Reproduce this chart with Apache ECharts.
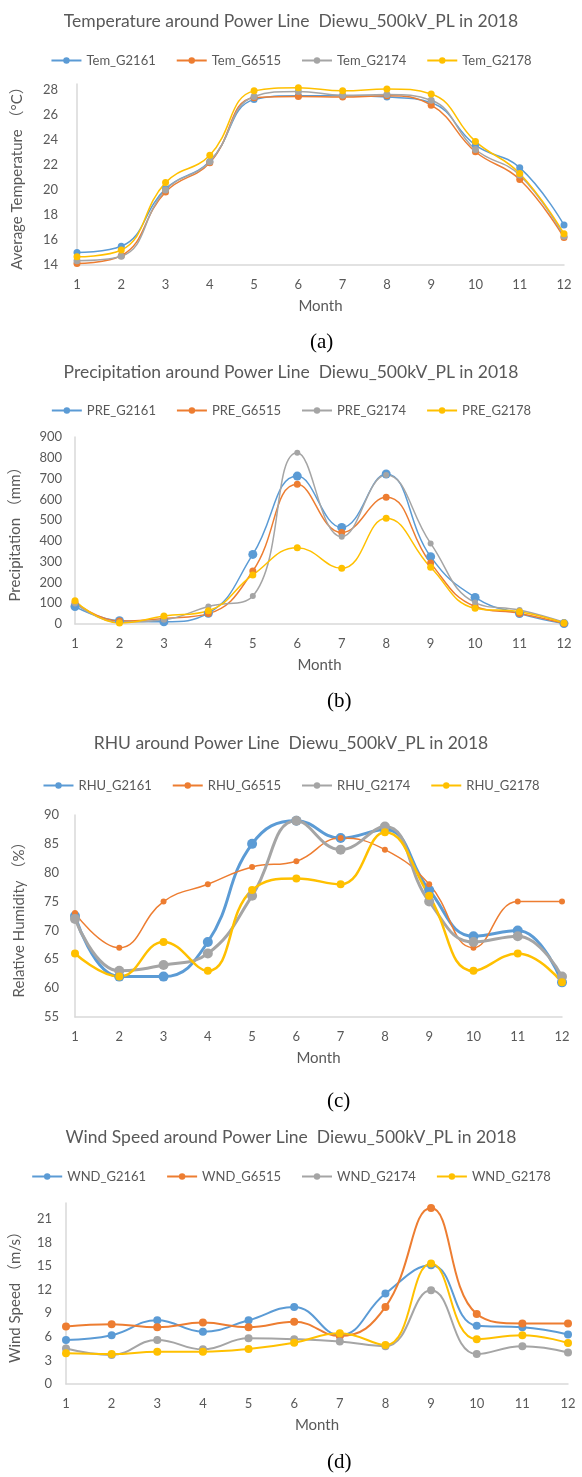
<!DOCTYPE html>
<html>
<head>
<meta charset="utf-8">
<script src="https://cdn.jsdelivr.net/npm/echarts@6/dist/echarts.min.js"></script>
<style>
html, body { margin: 0; padding: 0; background: #fff; }
#main { width: 582px; height: 1477px; }
</style>
</head>
<body>
<div id="main"></div>
<script>
var months = ['1', '2', '3', '4', '5', '6', '7', '8', '9', '10', '11', '12'];
var stations = ['G2161', 'G6515', 'G2174', 'G2178'];

// (a) average temperature, °C
var temG2161 = [15.0, 15.5, 20.1, 22.3, 27.25, 27.55, 27.55, 27.45, 27.0, 23.6, 21.8, 17.2];
var temG6515 = [14.13, 14.75, 19.85, 22.2, 27.4, 27.5, 27.45, 27.55, 26.8, 23.07, 20.85, 16.2];
var temG2174 = [14.35, 14.7, 20.0, 22.27, 27.5, 27.9, 27.6, 27.65, 27.2, 23.25, 21.2, 16.3];
var temG2178 = [14.66, 15.2, 20.6, 22.8, 27.95, 28.2, 27.95, 28.1, 27.7, 23.9, 21.33, 16.5];

// (b) precipitation, mm
var preG2161 = [84, 16, 11, 52, 335, 712, 465, 722, 324, 128, 50, 2];
var preG6515 = [104, 14, 27, 50, 255, 672, 440, 610, 293, 84, 51, 3];
var preG2174 = [99, 8, 20, 84, 135, 824, 420, 717, 388, 103, 67, 8];
var preG2178 = [112, 5, 38, 64, 236, 367, 268, 509, 273, 76, 59, 5];

// (c) relative humidity, %
var rhuG2161 = [72.5, 62, 62, 68, 85, 89, 86, 87.5, 77, 69, 70, 61];
var rhuG6515 = [73, 67, 75, 78, 81, 82, 86, 84, 78, 67, 75, 75];
var rhuG2174 = [72, 63, 64, 66, 76, 89, 84, 88, 75, 68, 69, 62];
var rhuG2178 = [66, 62, 68, 63, 77, 79, 78, 87, 76, 63, 66, 61];

// (d) wind speed, m/s
var wndG2161 = [5.6, 6.2, 8.1, 6.65, 8.1, 9.8, 6.2, 11.5, 15.1, 7.4, 7.2, 6.3];
var wndG6515 = [7.3, 7.6, 7.2, 7.8, 7.2, 7.9, 6.1, 9.8, 22.35, 8.9, 7.7, 7.7];
var wndG2174 = [4.5, 3.7, 5.6, 4.4, 5.8, 5.7, 5.4, 4.8, 11.9, 3.8, 4.8, 4.0];
var wndG2178 = [3.9, 3.8, 4.1, 4.1, 4.45, 5.25, 6.45, 4.95, 15.3, 5.7, 6.2, 5.2];

var colors = ['#5B9BD5', '#ED7D31', '#A5A5A5', '#FFC000'];
var font = 'Lato, "Noto Sans CJK SC", sans-serif';
var textColor = '#595959';
var axisColor = '#D9D9D9';

var panels = [
    {
        title: 'Temperature around Power Line  Diewu_500kV_PL in 2018',
        prefix: 'Tem_', yName: 'Average Temperature （°C）',
        data: [temG2161, temG6515, temG2174, temG2178],
        grid: {left: 77, top: 84, width: 487, height: 181},
        y: {min: 14, max: 28.5, interval: 2, margin: 19, nameGap: 52},
        titleTop: 8, legendTop: 49, caption: '(a)', capX: 323, capTop: 332,
        lw: [1.5, 1.5, 1.5, 1.5], sym: [7, 7, 7, 7]
    },
    {
        title: 'Precipitation around Power Line  Diewu_500kV_PL in 2018',
        prefix: 'PRE_', yName: 'Precipitation （mm）',
        data: [preG2161, preG6515, preG2174, preG2178],
        grid: {left: 70, top: 437, width: 494, height: 187},
        y: {min: 0, max: 900, interval: 100, margin: 13, nameGap: 52},
        titleTop: 359, legendTop: 399, caption: '(b)', capX: 340, capTop: 691,
        lw: [1.5, 1.5, 1.5, 1.5], sym: [9, 7, 6, 7]
    },
    {
        title: 'RHU around Power Line  Diewu_500kV_PL in 2018',
        prefix: 'RHU_', yName: 'Relative Humidity （%）',
        data: [rhuG2161, rhuG6515, rhuG2174, rhuG2178],
        grid: {left: 75, top: 815, width: 487, height: 202},
        y: {min: 55, max: 90, interval: 5, margin: 16, nameGap: 48},
        titleTop: 730, legendTop: 774, caption: '(c)', capX: 340, capTop: 1091,
        lw: [3, 1.5, 3, 2.5], sym: [10, 6, 10, 8]
    },
    {
        title: 'Wind Speed around Power Line  Diewu_500kV_PL in 2018',
        prefix: 'WND_', yName: 'Wind Speed （m/s）',
        data: [wndG2161, wndG6515, wndG2174, wndG2178],
        grid: {left: 62, top: 1203, width: 506, height: 181},
        y: {min: 0, max: 23, interval: 3, margin: 14, nameGap: 43},
        titleTop: 1124, legendTop: 1165, caption: '(d)', capX: 340, capTop: 1452,
        lw: [2, 2, 2, 2], sym: [8, 8, 8, 8]
    }
];

var option = {
    backgroundColor: '#fff',
    animation: false,
    textStyle: {fontFamily: font},
    title: [], legend: [], grid: [], xAxis: [], yAxis: [], series: [], graphic: []
};

panels.forEach(function(p, i) {
    option.title.push({
        text: p.title, left: 'center', top: p.titleTop,
        textStyle: {fontFamily: font, fontSize: 17.5, fontWeight: 'normal', color: textColor}
    });
    option.legend.push({
        left: 'center', top: p.legendTop, itemGap: 20, itemWidth: 30, itemHeight: 8,
        textStyle: {fontFamily: font, fontSize: 13, color: textColor},
        data: stations.map(function(s) { return p.prefix + s; })
    });
    option.grid.push(p.grid);
    option.xAxis.push({
        type: 'category', gridIndex: i, data: months, boundaryGap: false,
        name: 'Month', nameLocation: 'middle', nameGap: 34,
        nameTextStyle: {fontFamily: font, fontSize: 15, color: textColor},
        axisLine: {lineStyle: {color: axisColor, width: 1.5}},
        axisTick: {show: false},
        axisLabel: {fontFamily: font, fontSize: 13, color: textColor, margin: 13}
    });
    option.yAxis.push({
        type: 'value', gridIndex: i, min: p.y.min, max: p.y.max, interval: p.y.interval,
        name: p.yName, nameLocation: 'middle', nameGap: p.y.nameGap,
        nameTextStyle: {fontFamily: font, fontSize: 15, color: textColor},
        axisLine: {show: true, lineStyle: {color: axisColor, width: 1.5}},
        axisTick: {show: false},
        splitLine: {show: false},
        axisLabel: {fontFamily: font, fontSize: 13, color: textColor, margin: p.y.margin, showMaxLabel: p.y.max % p.y.interval === 0}
    });
    stations.forEach(function(s, k) {
        option.series.push({
            name: p.prefix + s, type: 'line', xAxisIndex: i, yAxisIndex: i,
            data: p.data[k], smooth: 0.45, symbol: 'circle', symbolSize: p.sym[k],
            clip: false,
            lineStyle: {color: colors[k], width: p.lw[k]},
            itemStyle: {color: colors[k]}
        });
    });
    option.graphic.push({
        type: 'text', left: p.capX - 13, top: p.capTop,
        style: {text: p.caption, fill: '#000', font: '21px "Liberation Serif", serif'}
    });
});

var chart = echarts.init(document.getElementById('main'));
chart.setOption(option);
</script>
</body>
</html>
